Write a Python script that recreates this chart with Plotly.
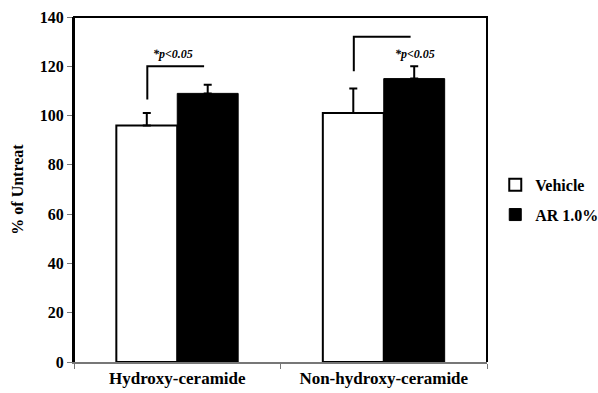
import plotly.graph_objects as go

categories = ["Hydroxy-ceramide", "Non-hydroxy-ceramide"]
vehicle = [96, 101]
vehicle_err = [5, 10]
ar = [109, 115]
ar_err = [3.5, 5]

# significance brackets: lower start of the left leg and height of the bar
bracket_low = [106.5, 118]
bracket_top = [120, 132]
sig_label = "*p<0.05"
sig_text_y = [125, 125]
sig_text_dx = [-0.02, 0.15]

FONT = "Times New Roman, Liberation Serif, serif"

fig = go.Figure()
fig.add_trace(go.Bar(
    x=categories, y=vehicle, name="Vehicle", legendgroup="a",
    marker=dict(color="white", line=dict(color="black", width=2)),
    error_y=dict(type="data", array=vehicle_err, arrayminus=[0, 0], symmetric=False,
                 color="black", thickness=2, width=4),
))
fig.add_trace(go.Bar(
    x=categories, y=ar, name="AR 1.0%", legendgroup="b",
    marker=dict(color="black", line=dict(color="black", width=1)),
    error_y=dict(type="data", array=ar_err, arrayminus=[0, 0], symmetric=False,
                 color="black", thickness=2, width=4),
))

left_off, right_off = -0.145, 0.13
for i in range(len(categories)):
    fig.add_shape(type="path",
                  path=f"M {i+left_off} {bracket_low[i]} L {i+left_off} {bracket_top[i]} L {i+right_off} {bracket_top[i]}",
                  xref="x", yref="y", line=dict(color="black", width=2))
    fig.add_annotation(x=i + sig_text_dx[i], y=sig_text_y[i], xref="x", yref="y",
                       text=f"<i><b>{sig_label}</b></i>", showarrow=False,
                       font=dict(family=FONT, size=12, color="black"))

fig.update_layout(
    width=598, height=393,
    margin=dict(l=74, r=111, t=17, b=31, autoexpand=False),
    paper_bgcolor="white", plot_bgcolor="white",
    barmode="group", bargap=0.41, bargroupgap=0,
    font=dict(family=FONT, color="black"),
    showlegend=True,
    legend=dict(x=1.02, y=0.47, xanchor="left", yanchor="middle",
                font=dict(family=FONT, size=16, color="black", weight="bold"),
                traceorder="grouped", tracegroupgap=6,
                itemwidth=30, bgcolor="rgba(0,0,0,0)"),
)
fig.update_xaxes(
    range=[-0.5, 1.5], showline=True, linecolor="#777777", linewidth=2,
    mirror=False, ticks="outside", tickson="boundaries", ticklen=5,
    tickcolor="#777777", tickwidth=1,
    tickfont=dict(family=FONT, size=17, color="black", weight="bold"),
    showgrid=False,
)
fig.update_yaxes(
    range=[0, 140], dtick=20, showline=True, linecolor="black", linewidth=2,
    ticks="outside", ticklen=5, tickcolor="#777777",
    tickfont=dict(family=FONT, size=16, color="black", weight="bold"),
    title=dict(text="% of Untreat", font=dict(family=FONT, size=16, color="black", weight="bold"),
               standoff=12),
    showgrid=False, zeroline=False,
)
# frame on top and right
fig.add_shape(type="path", path="M 0 0 L 0 1 L 1 1 L 1 0", xref="paper", yref="paper",
              line=dict(color="black", width=2))

fig.write_html("out.html")
